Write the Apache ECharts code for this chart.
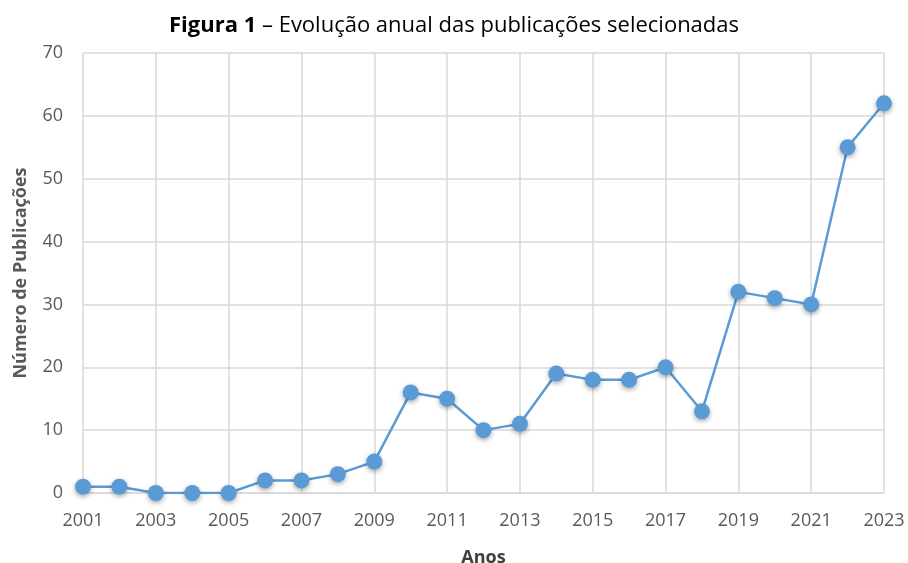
<!DOCTYPE html>
<html>
<head>
<meta charset="utf-8">
<script src="https://cdn.jsdelivr.net/npm/echarts@6/dist/echarts.min.js"></script>
<style>html,body{margin:0;padding:0;background:#fff;}#c{width:908px;height:563px;}</style>
</head>
<body>
<div id="c"></div>
<script>
const years = ['2001','2002','2003','2004','2005','2006','2007','2008','2009','2010','2011','2012','2013','2014','2015','2016','2017','2018','2019','2020','2021','2022','2023'];
const publications = [1,1,0,0,0,2,2,3,5,16,15,10,11,19,18,18,20,13,32,31,30,55,62];
const titleBold = 'Figura 1';
const titleRest = ' – Evolução anual das publicações selecionadas';
const xName = 'Anos';
const yName = 'Número de Publicações';

const chart = echarts.init(document.getElementById('c'));
const font = '"Open Sans", "Noto Sans", sans-serif';
chart.setOption({
  animation: false,
  title: {
    text: '{b|' + titleBold + '}{n|' + titleRest + '}',
    left: 'center',
    top: 10,
    textStyle: {
      fontWeight: 'normal',
      rich: {
        b: { fontFamily: font, fontWeight: 'bold', fontSize: 22, color: '#000' },
        n: { fontFamily: font, fontWeight: 'normal', fontSize: 22, color: '#000' }
      }
    }
  },
  grid: { left: 83, right: 24, top: 53, bottom: 70, containLabel: false, outerBoundsMode: 'none' },
  xAxis: {
    type: 'category',
    data: years,
    boundaryGap: false,
    name: xName,
    nameLocation: 'middle',
    nameGap: 56,
    nameTextStyle: { fontFamily: font, fontWeight: 'bold', fontSize: 18, color: '#404040' },
    axisLine: { show: true, lineStyle: { color: '#d9d9d9', width: 1.5 } },
    axisTick: { show: false },
    axisLabel: { interval: 1, margin: 19, fontFamily: font, fontSize: 18, color: '#595959' },
    splitLine: { show: true, interval: 1, lineStyle: { color: '#d9d9d9', width: 1.5 } }
  },
  yAxis: {
    type: 'value',
    min: 0,
    max: 70,
    interval: 10,
    name: yName,
    nameLocation: 'middle',
    nameGap: 53,
    nameTextStyle: { fontFamily: font, fontWeight: 'bold', fontSize: 18, color: '#595959' },
    axisLine: { show: false },
    axisTick: { show: false },
    axisLabel: { margin: 20, fontFamily: font, fontSize: 18, color: '#595959' },
    splitLine: { show: true, lineStyle: { color: '#d9d9d9', width: 1.5 } }
  },
  series: [{
    type: 'line',
    data: publications,
    symbol: 'circle',
    symbolSize: 16,
    lineStyle: { color: '#5b9bd5', width: 2.5 },
    itemStyle: {
      color: '#5b9bd5',
      shadowBlur: 5,
      shadowColor: 'rgba(0,0,0,0.35)',
      shadowOffsetY: 2
    }
  }]
});
</script>
</body>
</html>
